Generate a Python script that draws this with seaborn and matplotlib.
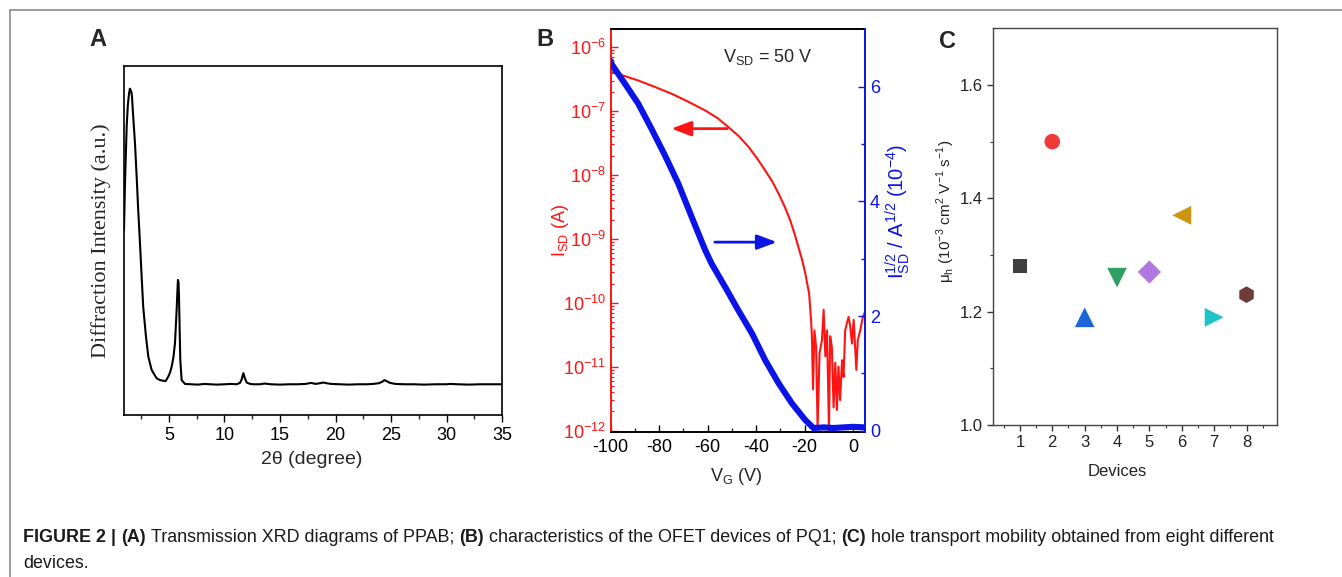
import matplotlib
matplotlib.use("Agg")
import matplotlib.pyplot as plt
from matplotlib.lines import Line2D
from matplotlib.ticker import FixedLocator, NullFormatter, FormatStrFormatter
import pandas as pd
import seaborn as sns

# ---- Panel A: XRD pattern ----
xrd_2theta = [0.95, 1.04, 1.19, 1.30, 1.40, 1.48, 1.55, 1.62, 1.67, 1.78,
              1.94, 2.09, 2.23, 2.39, 2.54, 2.68, 2.93, 3.14, 3.44, 3.89,
              4.20, 4.49, 4.70, 4.94, 5.10, 5.24, 5.40, 5.54, 5.69, 5.76,
              5.81, 5.86, 5.90, 5.96, 6.02, 6.14, 6.44, 7.0, 7.6, 8.2,
              8.7, 9.3, 10.0, 10.6, 11.1, 11.4, 11.55, 11.7, 11.85, 12.0,
              12.3, 12.6, 13.2, 13.6, 14.2, 15.0, 15.8, 16.6, 17.3, 17.8,
              18.2, 18.6, 18.9, 19.2, 19.6, 20.4, 21.2, 22.0, 22.8, 23.4,
              23.9, 24.2, 24.4, 24.6, 24.9, 25.4, 26.2, 27.0, 28.0, 29.0,
              30.0, 30.3, 31.0, 32.0, 33.0, 34.0, 35.0]
intensity = [0.53, 0.665, 0.826, 0.89, 0.92, 0.935, 0.93, 0.925, 0.912, 0.855,
             0.778, 0.683, 0.587, 0.492, 0.396, 0.31, 0.224, 0.167, 0.129, 0.105,
             0.100, 0.098, 0.097, 0.110, 0.122, 0.138, 0.165, 0.205, 0.300, 0.355,
             0.387, 0.380, 0.345, 0.25, 0.158, 0.100, 0.089, 0.088, 0.087, 0.089,
             0.088, 0.087, 0.088, 0.089, 0.088, 0.092, 0.102, 0.12, 0.104, 0.093,
             0.089, 0.088, 0.088, 0.090, 0.088, 0.087, 0.088, 0.088, 0.089, 0.092,
             0.089, 0.091, 0.093, 0.091, 0.089, 0.088, 0.087, 0.088, 0.088, 0.089,
             0.091, 0.095, 0.100, 0.097, 0.092, 0.089, 0.088, 0.088, 0.087, 0.088,
             0.088, 0.089, 0.088, 0.087, 0.088, 0.088, 0.088]

# ---- Panel B: transfer curve ----
vg_red = [-100, -94, -88.6, -82, -74.8, -68, -61.0, -56, -51.4, -47,
          -43.1, -39.5, -36.2, -33.3, -30.7, -28.2, -25.9, -24.1, -22.5, -21,
          -19.7, -18.1, -17.2, -16.9, -16.5, -15.9, -15.2, -14.6, -13.8, -12.8,
          -12.1, -11.4, -10.7, -9.9, -9.4, -8.7, -8.0, -7.3, -6.6, -6.0,
          -5.3, -4.5, -3.9, -3.2, -2.5, -1.8, -1.1, -0.4, 0.3, 1.4,
          2.0, 3.0, 4.1, 5.0]
isd = [4.1e-7, 3.5e-7, 3.0e-7, 2.4e-7, 1.86e-7, 1.4e-7, 1.02e-7, 7.8e-8, 5.6e-8, 4.0e-8,
       2.75e-8, 1.8e-8, 1.17e-8, 7.9e-9, 5.1e-9, 3.2e-9, 1.95e-9, 1.2e-9, 7.4e-10, 4.7e-10,
       2.9e-10, 1.4e-10, 4.8e-11, 2.6e-11, 4.4e-12, 3.7e-11, 2.0e-11, 1.1e-12, 1.6e-11, 2.6e-11,
       7.8e-11, 1.45e-11, 3.7e-11, 1.0e-12, 3.0e-11, 2.0e-11, 2.3e-12, 1.15e-11, 2.1e-12, 1.0e-11,
       3.0e-12, 1.26e-11, 6.9e-12, 3.7e-11, 4.8e-11, 6.0e-11, 4.2e-11, 2.3e-11, 5.4e-11, 8.9e-12,
       2.6e-11, 3.7e-11, 6.0e-11, 7.2e-11]
vg_blue = [-100, -99.6, -94.1, -88.6, -83.1, -77.6, -72.1, -66.5, -61.0, -58.3,
           -52.8, -47.3, -41.7, -36.2, -30.7, -25.2, -19.7, -16.3, -12, -8,
           -4, 0, 5]
sqrt_isd = [6.45, 6.39, 6.05, 5.70, 5.26, 4.80, 4.31, 3.72, 3.15, 2.91,
            2.51, 2.10, 1.70, 1.23, 0.83, 0.48, 0.19, 0.05, 0.06, 0.05,
            0.06, 0.07, 0.06]
red_arrow = [(-52, 5.3e-8), (-75, 5.3e-8)]
blue_arrow = [(-57, 3.29), (-31.4, 3.29)]

# ---- Panel C: mobility of eight devices ----
devices = [1, 2, 3, 4, 5, 6, 7, 8]
mobility = [1.28, 1.50, 1.19, 1.26, 1.27, 1.37, 1.19, 1.23]
dev_markers = ['s', 'o', '^', 'v', 'D', '<', '>', 'h']
dev_colors = ['#404040', '#f03a3a', '#1a66d9', '#2ea062', '#b078e0', '#cc9410', '#1fc4c8', '#6e3a3a']
dev_sizes = [105, 125, 200, 200, 140, 185, 185, 145]

sns.set_style("ticks")
plt.rcParams['font.family'] = ['Liberation Sans', 'DejaVu Sans']
plt.rcParams['axes.unicode_minus'] = False

W, H = 1342, 577
fig = plt.figure(figsize=(W / 100, H / 100), dpi=100)

# frame lines of the page
fig.add_artist(Line2D([10 / W, 1], [1 - 10 / H, 1 - 10 / H], color='#8a8a8a', lw=1.2))
fig.add_artist(Line2D([10 / W, 10 / W], [0, 1 - 10 / H], color='#8a8a8a', lw=1.2))

# ---------------- A ----------------
ax_a = fig.add_axes([0.0924, 0.2808, 0.2817, 0.6048])
sns.lineplot(x=xrd_2theta, y=intensity, ax=ax_a, color='black', lw=1.5, estimator=None)
ax_a.set_xlim(0.95, 35)
ax_a.set_ylim(0, 1)
ax_a.set_yticks([])
ax_a.xaxis.set_major_locator(FixedLocator([5, 10, 15, 20, 25, 30, 35]))
ax_a.xaxis.set_minor_locator(FixedLocator([2.5, 7.5, 12.5, 17.5, 22.5, 27.5, 32.5]))
ax_a.tick_params(axis='x', which='major', direction='out', length=5, width=1, labelsize=13, colors='black')
ax_a.tick_params(axis='x', which='minor', direction='out', length=3, width=1)
for s in ax_a.spines.values():
    s.set_color('black')
    s.set_linewidth(1.2)
ax_a.set_ylabel('Diffraction Intensity (a.u.)', fontfamily='Liberation Serif', fontsize=16)
ax_a.yaxis.set_label_coords(-0.035, 0.5)
ax_a.set_xlabel('2θ (degree)', fontsize=14)
ax_a.xaxis.set_label_coords(0.497, -0.104)

# ---------------- B ----------------
ax_b = fig.add_axes([0.4551, 0.2513, 0.1895, 0.6979])
ax_b.set_yscale('log')
sns.lineplot(x=vg_red, y=isd, ax=ax_b, color='#ff1414', lw=1.5, estimator=None)
ax_b.set_xlim(-100, 5)
ax_b.set_ylim(9.5e-13, 1.9e-6)
ax_b.xaxis.set_major_locator(FixedLocator([-100, -80, -60, -40, -20, 0]))
ax_b.xaxis.set_minor_locator(FixedLocator([-90, -70, -50, -30, -10]))
ax_b.yaxis.set_minor_formatter(NullFormatter())
ax_b.tick_params(axis='x', which='major', direction='in', length=5, width=1, labelsize=13,
                 colors='black', pad=5)
ax_b.tick_params(axis='x', which='minor', direction='in', length=3, width=1)
ax_b.tick_params(axis='y', which='major', direction='in', length=5, width=1, labelsize=13, colors='#ff1414')
ax_b.tick_params(axis='y', which='minor', direction='in', length=2.5, width=0.8, colors='#ff1414')
ax_b.spines['left'].set_color('#ff1414')
ax_b.spines['right'].set_visible(False)
for k in ['top', 'bottom']:
    ax_b.spines[k].set_color('black')
for s in ax_b.spines.values():
    s.set_linewidth(1.4)
ax_b.set_ylabel(r'I$_\mathregular{SD}$ (A)', color='#ff1414', fontsize=13)
ax_b.yaxis.set_label_coords(-0.155, 0.5)
ax_b.set_xlabel(r'V$_\mathregular{G}$ (V)', fontsize=13)
ax_b.xaxis.set_label_coords(0.495, -0.084)
ax_b.text(0.44, 0.932, r'V$_\mathregular{SD}$ = 50 V', transform=ax_b.transAxes,
          fontsize=13, va='center', ha='left')
ax_b.annotate('', xy=red_arrow[1], xytext=red_arrow[0],
              arrowprops=dict(arrowstyle='-|>,head_length=0.8,head_width=0.3', color='#ff1414',
                              lw=2, mutation_scale=15, shrinkA=0, shrinkB=0))

ax2 = ax_b.twinx()
sns.lineplot(x=vg_blue, y=sqrt_isd, ax=ax2, color='#0a14e6', lw=4.4, estimator=None)
ax2.set_xlim(-100, 5)
ax2.set_ylim(-0.02, 7.0)
ax2.yaxis.set_major_locator(FixedLocator([0, 2, 4, 6]))
ax2.yaxis.set_minor_locator(FixedLocator([1, 3, 5]))
ax2.tick_params(axis='y', which='major', direction='in', length=5, width=1, labelsize=13, colors='#0a14e6')
ax2.tick_params(axis='y', which='minor', direction='in', length=3, width=1, colors='#0a14e6')
for k in ['left', 'top', 'bottom']:
    ax2.spines[k].set_visible(False)
ax2.spines['right'].set_color('#0a14e6')
ax2.spines['right'].set_linewidth(1.4)
ax2.set_ylabel(r'I$_\mathregular{SD}^\mathregular{1/2}$ / A$^\mathregular{1/2}$ (10$^\mathregular{-4}$)',
               color='#0a14e6', fontsize=14.5)
ax2.yaxis.set_label_coords(1.07, 0.549)
ax2.annotate('', xy=blue_arrow[1], xytext=blue_arrow[0],
             arrowprops=dict(arrowstyle='-|>,head_length=0.8,head_width=0.3', color='#0a14e6',
                             lw=2, mutation_scale=15, shrinkA=0, shrinkB=0))

# ---------------- C ----------------
ax_c = fig.add_axes([0.7402, 0.2634, 0.2111, 0.6876])
df_c = pd.DataFrame({'device': devices, 'mobility': mobility})
sns.scatterplot(data=df_c, x='device', y='mobility', hue='device', style='device', size='device',
                palette=dict(zip(devices, dev_colors)), markers=dict(zip(devices, dev_markers)),
                sizes=dict(zip(devices, dev_sizes)), edgecolor='none', legend=False, ax=ax_c)
ax_c.set_xlim(0.18, 8.93)
ax_c.set_ylim(1.0, 1.7)
ax_c.xaxis.set_major_locator(FixedLocator(devices))
ax_c.xaxis.set_minor_locator(FixedLocator([0.5, 1.5, 2.5, 3.5, 4.5, 5.5, 6.5, 7.5, 8.5]))
ax_c.yaxis.set_major_locator(FixedLocator([1.0, 1.2, 1.4, 1.6]))
ax_c.yaxis.set_minor_locator(FixedLocator([1.1, 1.3, 1.5]))
ax_c.yaxis.set_major_formatter(FormatStrFormatter('%.1f'))
ax_c.tick_params(which='major', direction='out', length=4, width=1, labelsize=12,
                 color='#333333', labelcolor='#222222')
ax_c.tick_params(which='minor', direction='out', length=2.5, width=0.8, color='#333333')
for s in ax_c.spines.values():
    s.set_color('#444444')
    s.set_linewidth(1.0)
ax_c.set_ylabel(r'μ$_\mathregular{h}$ (10$^\mathregular{-3}$ cm$^\mathregular{2}$ V$^\mathregular{-1}$ s$^\mathregular{-1}$)',
                fontsize=11, color='#222222')
ax_c.yaxis.set_label_coords(-0.13, 0.538)
ax_c.set_xlabel('Devices', fontsize=12, color='#222222')
ax_c.xaxis.set_label_coords(0.4375, -0.097)

# panel letters
for letter, (px, py) in zip(['A', 'B', 'C'], [(98, 40), (545, 40), (947, 41)]):
    fig.text(px / W, 1 - py / H, letter, fontsize=17, fontweight='bold', ha='center', va='center')

# caption with mixed bold / regular pieces
renderer = fig.canvas.get_renderer()
caption_line1 = [('FIGURE 2 |', 'bold'), ('(A)', 'bold'), ('Transmission XRD diagrams of PPAB;', 'normal'),
                 ('(B)', 'bold'), ('characteristics of the OFET devices of PQ1;', 'normal'),
                 ('(C)', 'bold'), ('hole transport mobility obtained from eight different', 'normal')]
caption_line2 = [('devices.', 'normal')]


def text_width(txt, size, weight):
    t = fig.text(0, 0, txt, fontsize=size, fontweight=weight)
    w = t.get_window_extent(renderer).width
    t.remove()
    return w


def line_width(parts, size):
    gap = text_width('x x', size, 'normal') - text_width('xx', size, 'normal')
    return sum(text_width(p, size, w) for p, w in parts) + gap * (len(parts) - 1), gap


base = 10
w0, _ = line_width(caption_line1, base)
cap_size = base * (1280 - 23) / w0


def draw_line(parts, y_px):
    _, gap = line_width(parts, cap_size)
    x = 23
    for txt, weight in parts:
        t = fig.text(x / W, 1 - y_px / H, txt, fontsize=cap_size, fontweight=weight,
                     ha='left', va='center', color='#1a1a1a')
        x += t.get_window_extent(renderer).width + gap


draw_line(caption_line1, 537)
draw_line(caption_line2, 564)

fig.savefig('out.png', dpi=100)
